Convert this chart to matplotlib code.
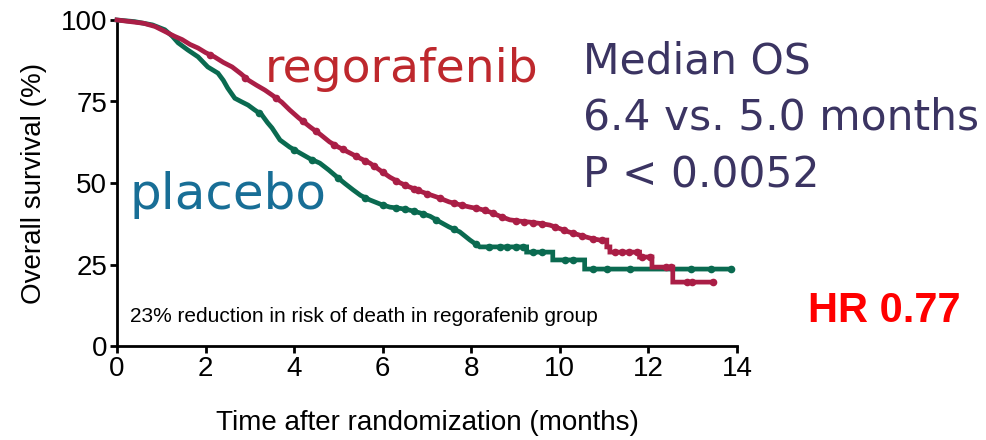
import numpy as np
import matplotlib
matplotlib.use("Agg")
import matplotlib.pyplot as plt

# Kaplan-Meier curves as traced points: time (months), overall survival (%)
# (the late drops are kept as explicit corners)
rego_t = [0, 0.3, 0.6, 0.86, 1.08, 1.3, 1.47, 1.65, 1.83, 2.0, 2.2, 2.4, 2.6, 2.8,
          2.96, 3.15, 3.34, 3.5, 3.72, 3.9, 4.1, 4.36, 4.6, 4.8, 5.0, 5.26, 5.5,
          5.71, 5.95, 6.16, 6.4, 6.6, 6.9, 7.22, 7.5, 7.75, 7.97, 8.2, 8.42, 8.65,
          8.87, 9.1, 9.32, 9.55, 9.77, 10.0, 10.2, 10.45, 10.68, 10.9,
          11.06, 11.06, 11.13, 11.13, 11.8, 11.8, 12.08, 12.08, 12.55, 12.55, 13.45]
rego_s = [100, 99.5, 99, 98, 96.5, 95, 94, 92.5, 91.4, 90, 88.7, 87, 85.6, 83.5,
          81.6, 80, 78.5, 77, 74.8, 72.4, 70, 67.2, 64.8, 62.6, 61, 59.2, 57.5,
          56.1, 53.8, 51.8, 50, 48.8, 47.2, 45.7, 44.2, 43.3, 42.6, 42, 41.1, 39.8,
          38.7, 38.3, 38.0, 37.6, 37.1, 36, 35, 34, 33.1, 32.5,
          32.5, 30.4, 30.4, 28.8, 28.8, 27.3, 27.3, 24.2, 24.2, 19.6, 19.6]

plac_t = [0, 0.4, 0.8, 1.08, 1.25, 1.38, 1.6, 1.83, 2.05, 2.28, 2.4, 2.5, 2.66, 2.8,
          2.96, 3.1, 3.27, 3.4, 3.5, 3.68, 3.9, 4.13, 4.35, 4.58, 4.78, 4.97, 5.15,
          5.33, 5.5, 5.71, 5.95, 6.16, 6.4, 6.6, 6.85, 7.07, 7.3, 7.5, 7.74, 7.97,
          8.19, 9.25, 9.25, 9.84, 9.84, 10.56, 10.56, 13.87]
plac_s = [100, 99.5, 98.5, 97, 95, 93, 90.8, 88.7, 85.6, 83.7, 81.5, 79.1, 76, 75,
          73.9, 72.5, 70.9, 68.5, 66.9, 63.2, 61, 59.2, 57.5, 56.1, 54, 51.8, 49.8,
          47.9, 46.2, 44.8, 43.5, 42.6, 42.2, 41.7, 40.8, 39.8, 38, 36.5, 35, 32.5,
          30.4, 30.4, 28.8, 28.8, 26.4, 26.4, 23.6, 23.6]

# censoring times
rego_cens = [2.1, 2.9, 3.6, 4.2, 4.5, 4.9, 5.1, 5.4, 5.6, 5.8, 6.0, 6.3, 6.5, 6.7,
             6.8, 7.0, 7.3, 7.6, 7.8, 8.1, 8.3, 8.5, 8.7, 9.0, 9.2, 9.4, 9.6, 9.9,
             10.1, 10.3, 10.5, 10.75, 10.96, 11.24, 11.4, 11.55, 11.74, 11.86, 12.04,
             12.4, 12.5, 12.87, 12.98, 13.45]
plac_cens = [3.2, 4.0, 4.4, 5.0, 5.6, 6.0, 6.3, 6.5, 6.7, 6.9, 7.2, 7.6, 8.1, 8.4,
             8.65, 8.8, 9.0, 9.17, 9.4, 9.6, 10.11, 10.3, 10.75, 11.06, 11.58, 12.97,
             13.42, 13.87]

x_ticks = [0, 2, 4, 6, 8, 10, 12, 14]
y_ticks = [0, 25, 50, 75, 100]

RED = '#AA1E46'
GREEN = '#0A6A50'

plt.rcParams['font.family'] = ['Liberation Sans', 'DejaVu Sans']

fig = plt.figure(figsize=(9.86, 4.4), dpi=100)
ax = fig.add_axes([117 / 986, 94 / 440, 620 / 986, 326 / 440])

for t, s, cens, col in [(plac_t, plac_s, plac_cens, GREEN),
                        (rego_t, rego_s, rego_cens, RED)]:
    ax.plot(t, s, color=col, lw=3.4, solid_joinstyle='miter',
            clip_on=False, zorder=3)
    ax.plot(cens, np.interp(cens, t, s), 'o', color=col, ms=5.5,
            mec='none', clip_on=False, zorder=4)

ax.set_xlim(0, 14)
ax.set_ylim(0, 100)
ax.set_xticks(x_ticks)
ax.set_yticks(y_ticks)
for side in ['top', 'right']:
    ax.spines[side].set_visible(False)
for side in ['left', 'bottom']:
    ax.spines[side].set_linewidth(2.0)
ax.tick_params(width=2.0, length=5, labelsize=20, pad=2)
ax.set_xlabel('Time after randomization (months)', fontsize=20, labelpad=20)
ax.set_ylabel('Overall survival (%)', fontsize=20, labelpad=10)

ax.text(0.021, 0.09, '23% reduction in risk of death in regorafenib group',
        transform=ax.transAxes, fontsize=15, va='center', ha='left')

geo = ['DejaVu Sans']
fig.text(265 / 986, 1 - 70 / 440, 'regorafenib', color='#BE282D', fontsize=34,
         family=geo, va='center', ha='left')
fig.text(130 / 986, 1 - 195 / 440, 'placebo', color='#186E96', fontsize=36,
         family=geo, va='center', ha='left')

for i, line in enumerate(['Median OS', '6.4 vs. 5.0 months', 'P < 0.0052']):
    fig.text(583 / 986, 1 - (73 + 57 * i) / 440, line, color='#3B3462',
             fontsize=30.5, family=geo, va='baseline', ha='left')

fig.text(808 / 986, 1 - 322 / 440, 'HR 0.77', color='#FF0000', fontsize=30,
         fontweight='bold', va='baseline', ha='left')

fig.savefig('out.png', dpi=100, facecolor='white')
